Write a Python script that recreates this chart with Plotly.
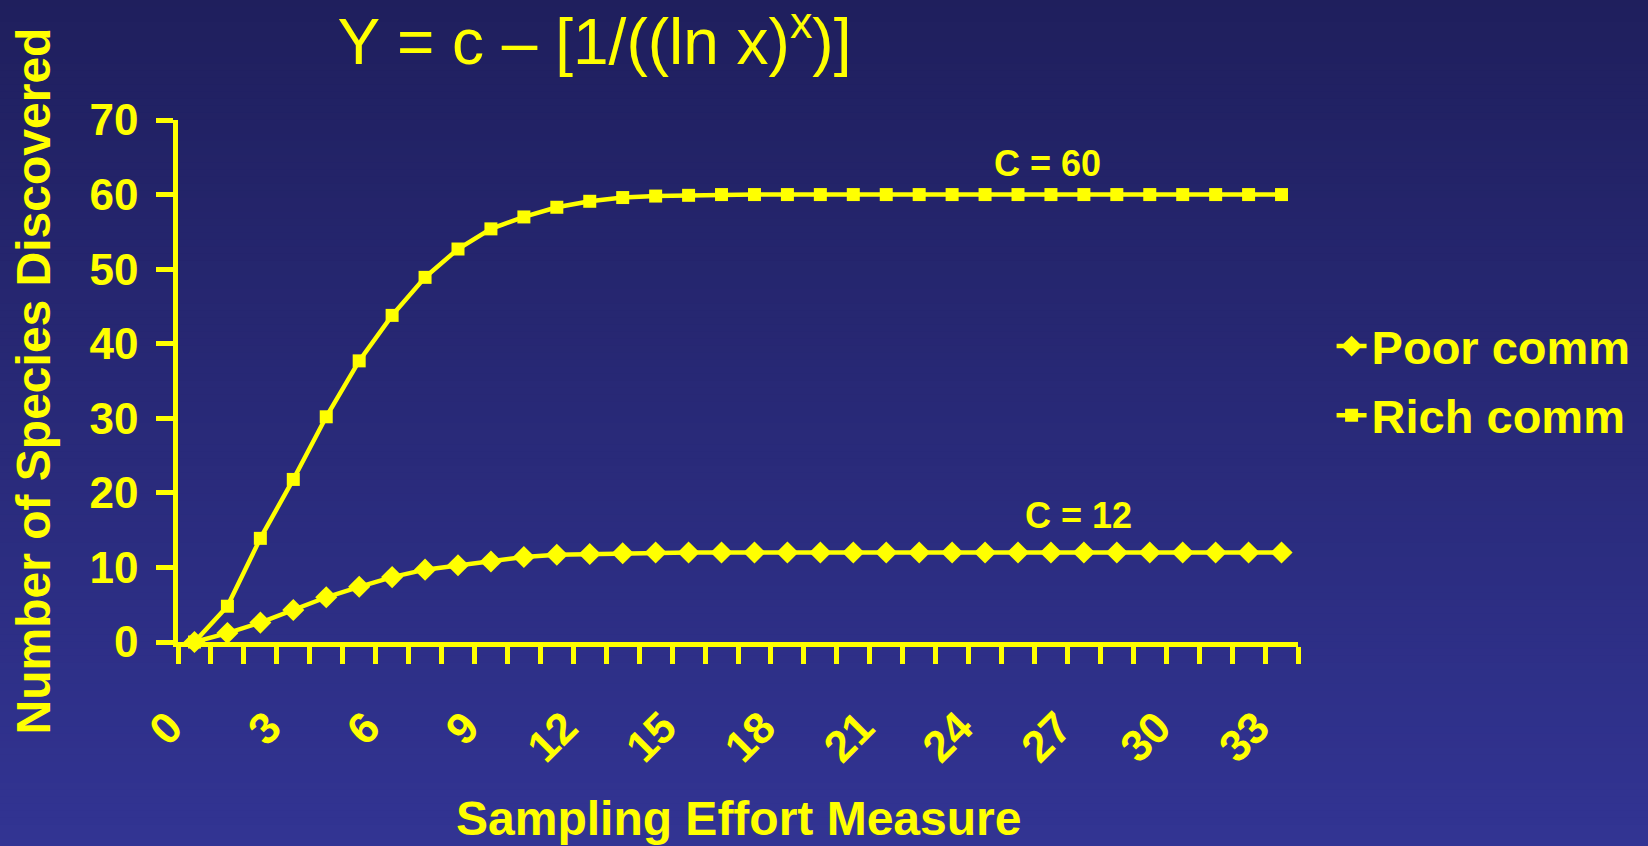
import plotly.graph_objects as go

# Sampling effort (category index) and species counts for the two communities
effort = list(range(34))
poor_comm = [0, 1.2, 2.6, 4.3, 6.0, 7.4, 8.7, 9.7, 10.3, 10.8, 11.4, 11.7, 11.8, 11.9,
             12, 12, 12, 12, 12, 12, 12, 12, 12, 12, 12, 12, 12, 12, 12, 12, 12, 12, 12, 12]
rich_comm = [0, 4.8, 13.9, 21.8, 30.2, 37.7, 43.8, 48.9, 52.7, 55.4, 57.0, 58.3, 59.1, 59.6,
             59.8, 59.9, 60, 60, 60, 60, 60, 60, 60, 60, 60, 60, 60, 60, 60, 60, 60, 60, 60, 60]
x_tick_values = [0, 3, 6, 9, 12, 15, 18, 21, 24, 27, 30, 33]
x_tick_labels = ["0", "3", "6", "9", "12", "15", "18", "21", "24", "27", "30", "33"]

W, H = 1648, 846
M_L, M_R, M_T, M_B = 178, 346, 120, 204
YEL = "#FFFF00"
FONT = "Liberation Sans, Arial, sans-serif"

fig = go.Figure()
fig.add_trace(go.Scatter(
    x=effort, y=poor_comm, name="Poor comm", mode="lines+markers",
    line=dict(color=YEL, width=4.5),
    marker=dict(symbol="diamond", size=17, color=YEL),
    cliponaxis=False, legendgroup="poor",
))
fig.add_trace(go.Scatter(
    x=effort, y=rich_comm, name="Rich comm", mode="lines+markers",
    line=dict(color=YEL, width=4.5),
    marker=dict(symbol="square", size=13, color=YEL),
    cliponaxis=False, legendgroup="rich",
))

# vertical background gradient, dark navy at the top to lighter blue at the bottom
plot_h = H - M_T - M_B
top_rgb = (31, 31, 93)
bot_rgb = (50, 52, 147)
n_bands = 120
shapes = []
for i in range(n_bands):
    p0 = H * i / n_bands
    p1 = H * (i + 1) / n_bands + 1
    t = (i + 0.5) / n_bands
    c = tuple(round(a + (b - a) * t) for a, b in zip(top_rgb, bot_rgb))
    shapes.append(dict(
        type="rect", xref="paper", yref="paper", layer="below",
        x0=-0.5, x1=1.6,
        y0=(H - M_B - p1) / plot_h, y1=(H - M_B - p0) / plot_h,
        fillcolor="rgb(%d,%d,%d)" % c, line=dict(width=0),
    ))

fig.update_layout(
    width=W, height=H,
    margin=dict(l=M_L, r=M_R, t=M_T, b=M_B),
    paper_bgcolor="rgb(40,41,120)",
    plot_bgcolor="rgba(0,0,0,0)",
    shapes=shapes,
    font=dict(family=FONT, color=YEL),
    title=dict(
        text="Y = c – [1/((ln x)<sup>x</sup>)]",
        font=dict(family=FONT, size=64, color=YEL),
        xref="container", x=594.5 / W, xanchor="center",
        yref="container", y=1 - 42 / H, yanchor="middle",
    ),
    showlegend=True,
    legend=dict(
        x=1.03, xanchor="left", y=0.5, yanchor="middle",
        bgcolor="rgba(0,0,0,0)", borderwidth=0,
        font=dict(family=FONT, size=47, color=YEL, weight="bold"),
        tracegroupgap=5, traceorder="grouped", itemwidth=30,
    ),
    xaxis=dict(
        range=[-0.5, 33.5], showgrid=False, zeroline=False,
        showline=True, linecolor=YEL, linewidth=4.5,
        tickmode="array", tickvals=x_tick_values, ticktext=x_tick_labels,
        ticks="", tickangle=-45,
        tickfont=dict(family=FONT, size=44, color=YEL, weight="bold"),
        ticklabelstandoff=37, ticklabelshift=-25,
        minor=dict(ticks="outside", tickmode="linear", tick0=-0.5, dtick=1,
                   ticklen=17, tickwidth=4.5, tickcolor=YEL, showgrid=False),
    ),
    yaxis=dict(
        range=[0, 70], dtick=10, showgrid=False, zeroline=False,
        showline=True, linecolor=YEL, linewidth=4.5,
        ticks="outside", ticklen=17, tickwidth=4.5, tickcolor=YEL,
        tickfont=dict(family=FONT, size=44, color=YEL, weight="bold"),
        ticklabelstandoff=9,
    ),
    annotations=[
        dict(text="Sampling Effort Measure", xref="paper", yref="paper",
             x=(741 - M_L) / (W - M_L - M_R), y=-(818 - (H - M_B)) / plot_h,
             xanchor="center", yanchor="middle", showarrow=False,
             font=dict(family=FONT, size=48, color=YEL, weight="bold")),
        dict(text="Number of Species Discovered", xref="paper", yref="paper",
             x=(32 - M_L) / (W - M_L - M_R), y=((H - M_B) - 381) / plot_h,
             xanchor="center", yanchor="middle", textangle=-90, showarrow=False,
             font=dict(family=FONT, size=48, color=YEL, weight="bold")),
        dict(text="C = 60", x=25.9, y=64.2, xref="x", yref="y", showarrow=False,
             xanchor="center", yanchor="middle",
             font=dict(family=FONT, size=36, color=YEL, weight="bold")),
        dict(text="C = 12", x=26.85, y=17.0, xref="x", yref="y", showarrow=False,
             xanchor="center", yanchor="middle",
             font=dict(family=FONT, size=36, color=YEL, weight="bold")),
    ],
)

fig.write_html("out.html")
